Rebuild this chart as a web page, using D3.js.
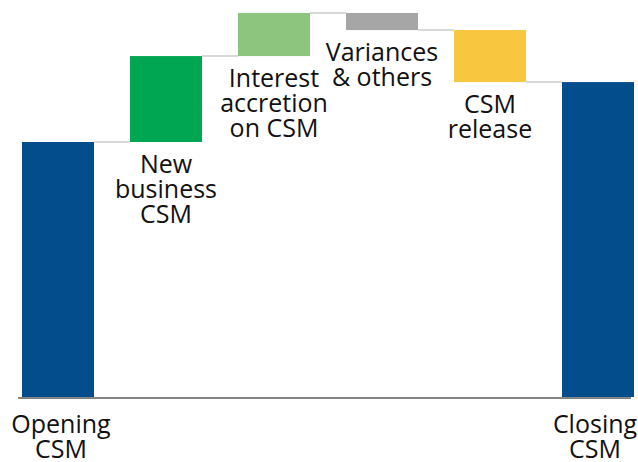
<!DOCTYPE html>
<html>
<head>
<meta charset="utf-8">
<script src="https://cdn.jsdelivr.net/npm/d3@7"></script>
<style>
  html, body { margin: 0; padding: 0; background: #fff; }
  text { font-family: "Open Sans", "Noto Sans", sans-serif; fill: #111; }
</style>
</head>
<body>
<div id="drawing"></div>
<script>
// waterfall data (arbitrary units)
var categories = ["Opening CSM", "New business CSM", "Interest accretion on CSM", "Variances & others", "CSM release", "Closing CSM"];
var labelLines = [["Opening", "CSM"], ["New", "business", "CSM"], ["Interest", "accretion", "on CSM"], ["Variances", "& others"], ["CSM", "release"], ["Closing", "CSM"]];
var values = [100, 33.7, 16.9, -6.7, -20.4, 123.5];
var isTotal = [true, false, false, false, false, true];
var colors = ["#034d8c", "#00a651", "#8dc57e", "#a6a6a6", "#f8c73f", "#034d8c"];

var W = 638, H = 462;
var svg = d3.select("#drawing").append("svg").attr("width", W).attr("height", H);

var x = d3.scaleBand().domain(categories).range([22, 634]).paddingInner(1 / 3).paddingOuter(0);
var y = d3.scaleLinear().domain([0, 100]).range([397, 142]);

// running totals
var bars = [];
var run = 0;
categories.forEach(function(c, i) {
  var start, end;
  if (isTotal[i]) { start = 0; end = values[i]; run = values[i]; }
  else { start = run; end = run + values[i]; run = end; }
  bars.push({ cat: c, start: start, end: end, lines: labelLines[i], color: colors[i], total: isTotal[i] });
});

// connectors between bars
var conn = svg.append("g");
for (var i = 0; i < bars.length - 1; i++) {
  conn.append("line")
    .attr("x1", x(bars[i].cat) + x.bandwidth())
    .attr("x2", x(bars[i + 1].cat))
    .attr("y1", y(bars[i].end)).attr("y2", y(bars[i].end))
    .attr("stroke", "#d9d9d9").attr("stroke-width", 2);
}

svg.append("g").selectAll("rect").data(bars).enter().append("rect")
  .attr("x", function(d) { return x(d.cat); })
  .attr("width", x.bandwidth())
  .attr("y", function(d) { return y(Math.max(d.start, d.end)); })
  .attr("height", function(d) { return Math.abs(y(d.start) - y(d.end)); })
  .attr("fill", function(d) { return d.color; });

// baseline
svg.append("line")
  .attr("x1", 18).attr("x2", 631)
  .attr("y1", y(0) + 1).attr("y2", y(0) + 1)
  .attr("stroke", "#848484").attr("stroke-width", 2);

// labels
var lab = svg.append("g").selectAll("text").data(bars).enter().append("text")
  .attr("text-anchor", "middle")
  .attr("font-size", 25)
  .attr("x", function(d) { return x(d.cat) + x.bandwidth() / 2 + (d.total ? (d.cat == "Closing CSM" ? -3 : 3) : 0); })
  .attr("y", function(d) {
    var low = Math.min(d.start, d.end);
    return d.total ? y(0) + 36 : y(low) + 31;
  });
lab.selectAll("tspan").data(function(d) { return d.lines.map(function(l) { return { l: l, x: d3.select(this).attr("x") }; }, this); })
  .enter().append("tspan")
  .attr("x", function(d) { return d.x; })
  .attr("dy", function(d, i) { return i ? 25 : 0; })
  .text(function(d) { return d.l; });
</script>
</body>
</html>
